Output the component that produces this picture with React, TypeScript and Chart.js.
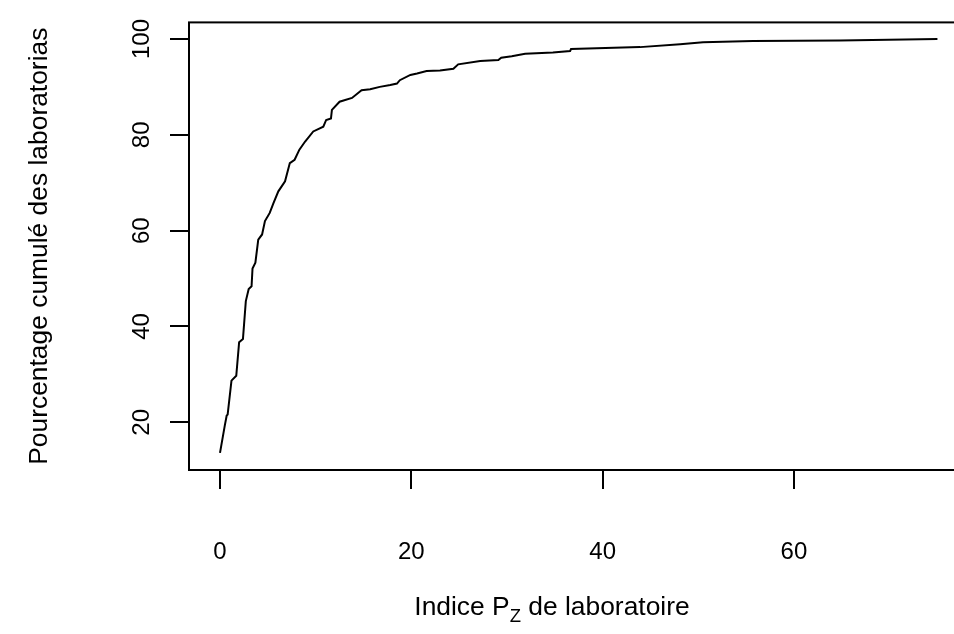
import { useEffect, useRef } from "react";
import { Chart, registerables } from "chart.js";

Chart.register(...registerables);

// Indice Pz (x) and cumulative percentage of laboratories (y)
const pzIndex = [
  0, 0.5, 0.7, 0.8, 1.2, 1.7, 2.0, 2.4, 2.7, 3.0, 3.3, 3.4, 3.7, 4.0, 4.4, 4.7,
  5.2, 5.6, 6.1, 6.8, 7.3, 7.8, 8.3, 8.9, 9.75, 10.8, 11.1, 11.6, 11.7, 12.5,
  13.8, 14.8, 15.7, 16.7, 17.8, 18.5, 18.8, 19.9, 20.6, 21.6, 23.0, 24.4, 24.9,
  27.2, 29.1, 29.4, 30.5, 31.9, 34.8, 36.6, 36.7, 43.9, 48.1, 50.5, 55.7, 64.8,
  75.0,
];
const cumulativePct = [
  13.6, 19.3, 21.4, 21.6, 28.7, 29.7, 36.7, 37.4, 45.3, 47.8, 48.4, 52.1, 53.3,
  58.1, 59.2, 62.0, 63.7, 65.8, 68.2, 70.3, 74.1, 74.8, 76.9, 78.6, 80.7, 81.7,
  83.1, 83.4, 85.2, 86.9, 87.7, 89.3, 89.5, 90.0, 90.4, 90.7, 91.4, 92.5, 92.8,
  93.3, 93.4, 93.8, 94.7, 95.4, 95.6, 96.1, 96.4, 96.9, 97.2, 97.5, 97.9, 98.3,
  98.9, 99.3, 99.6, 99.7, 100.0,
];
const xTickValues = [0, 20, 40, 60];
const yTickValues = [20, 40, 60, 80, 100];
const yTitle = "Pourcentage cumulé des laboratorias";
const xTitleMain = "Indice P";
const xTitleSub = "Z";
const xTitleRest = " de laboratoire";

const FONT = '"Liberation Sans", Arial, Helvetica, sans-serif';
const TICK_SIZE = 24;
const TITLE_SIZE = 26.4;

export default function App() {
  const ref = useRef<HTMLCanvasElement>(null);

  useEffect(() => {
    const canvas = ref.current;
    if (!canvas) return;

    const framePlugin = {
      id: "frameAndXTitle",
      afterDraw(chart: any) {
        const { ctx, chartArea: a } = chart;
        ctx.save();
        ctx.strokeStyle = "#000";
        ctx.lineWidth = 2;
        ctx.strokeRect(a.left, a.top, a.right - a.left, a.bottom - a.top);

        // x title with subscript
        const mainFont = `${TITLE_SIZE}px ${FONT}`;
        const subFont = `${TITLE_SIZE * 0.7}px ${FONT}`;
        ctx.font = mainFont;
        const w1 = ctx.measureText(xTitleMain).width;
        const w3 = ctx.measureText(xTitleRest).width;
        ctx.font = subFont;
        const w2 = ctx.measureText(xTitleSub).width;
        const total = w1 + w2 + w3;
        const cx = a.left + 363;
        const baseY = a.bottom + 145;
        let x = cx - total / 2;
        ctx.fillStyle = "#000";
        ctx.textBaseline = "alphabetic";
        ctx.textAlign = "left";
        ctx.font = mainFont;
        ctx.fillText(xTitleMain, x, baseY);
        x += w1;
        ctx.font = subFont;
        ctx.fillText(xTitleSub, x, baseY + 7);
        x += w2;
        ctx.font = mainFont;
        ctx.fillText(xTitleRest, x, baseY);
        ctx.restore();
      },
    };

    const chart = new Chart(canvas, {
      type: "line",
      data: {
        datasets: [
          {
            data: pzIndex.map((x, i) => ({ x, y: cumulativePct[i] })),
            borderColor: "#000",
            borderWidth: 2,
            pointRadius: 0,
            tension: 0,
            fill: false,
          },
        ],
      },
      options: {
        animation: false,
        responsive: false,
        maintainAspectRatio: false,
        layout: { padding: { left: 0, top: 5.6, right: 3, bottom: 0 } },
        plugins: {
          legend: { display: false },
          tooltip: { enabled: false },
        },
        scales: {
          x: {
            type: "linear",
            min: -3.24,
            max: 78.3,
            afterBuildTicks: (s: any) => {
              s.ticks = xTickValues.map((v) => ({ value: v }));
            },
            afterFit: (s: any) => {
              s.height = 164;
            },
            grid: {
              drawOnChartArea: false,
              drawTicks: true,
              tickLength: 19,
              color: "#000",
              lineWidth: 2,
            },
            border: { display: false },
            ticks: {
              autoSkip: false,
              maxRotation: 0,
              minRotation: 0,
              padding: 49,
              color: "#000",
              font: { family: FONT, size: TICK_SIZE },
              callback: (v: any) => String(v),
            },
          },
          y: {
            type: "linear",
            min: 10.04,
            max: 103.46,
            afterBuildTicks: (s: any) => {
              s.ticks = yTickValues.map((v) => ({ value: v }));
            },
            afterFit: (s: any) => {
              s.width = 189;
            },
            grid: {
              drawOnChartArea: false,
              drawTicks: true,
              tickLength: 19,
              color: "#000",
              lineWidth: 2,
            },
            border: { display: false },
            ticks: {
              autoSkip: false,
              minRotation: 90,
              maxRotation: 90,
              crossAlign: "center",
              padding: 8,
              color: "#000",
              font: { family: FONT, size: TICK_SIZE },
              callback: (v: any) => String(v),
            },
            title: {
              display: true,
              text: yTitle,
              color: "#000",
              font: { family: FONT, size: TITLE_SIZE },
              padding: { top: 24, bottom: 0 },
            },
          },
        },
      },
      plugins: [framePlugin],
    } as any);

    return () => chart.destroy();
  }, []);

  return (
    <div
      style={{
        position: "absolute",
        left: 0,
        top: 0,
        width: 954,
        height: 634,
        overflow: "hidden",
        background: "#fff",
      }}
    >
      <canvas ref={ref} width={972} height={634} style={{ display: "block" }} />
    </div>
  );
}
